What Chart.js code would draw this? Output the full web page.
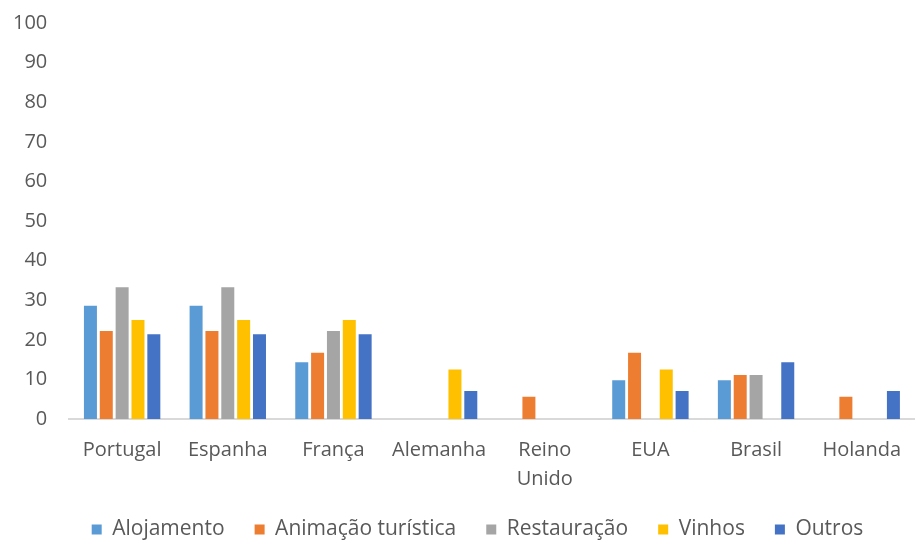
<!DOCTYPE html>
<html>
<head>
<meta charset="utf-8">
<script src="https://cdn.jsdelivr.net/npm/chart.js@4"></script>
<style>
  html, body { margin: 0; padding: 0; background: #fff; overflow: hidden; width: 918px; height: 543px; }
  #wrap { width: 918px; height: 556px; margin-top: -11px; }
</style>
</head>
<body>
<div id="wrap"><canvas id="chart"></canvas></div>
<script>
const categories = ['Portugal', 'Espanha', 'França', 'Alemanha', ['Reino', 'Unido'], 'EUA', 'Brasil', 'Holanda'];

const alojamento  = [28.6, 28.6, 14.3, null, null, 9.8, 9.8, null];
const animacao    = [22.2, 22.2, 16.7, null, 5.6, 16.7, 11.1, 5.6];
const restauracao = [33.3, 33.3, 22.2, null, null, null, 11.1, null];
const vinhos      = [25.0, 25.0, 25.0, 12.5, null, 12.5, null, null];
const outros      = [21.4, 21.4, 21.4, 7.1, null, 7.1, 14.3, 7.1];

const yTicks = [0, 10, 20, 30, 40, 50, 60, 70, 80, 90, 100];

const fontFamily = '"Open Sans", "Noto Sans", sans-serif';

// move the legend a bit right and up, like in the original
const shiftLegend = {
    id: 'shiftLegend',
    afterLayout(chart) {
        const lg = chart.legend;
        if (lg) {
            lg.left += 23;
            lg.right += 23;
            lg.top -= 22;
            lg.bottom -= 22;
        }
    }
};

function ds(label, data, color) {
    return {
        label: label,
        data: data,
        backgroundColor: color,
        borderWidth: 0,
        barPercentage: 0.82,
        categoryPercentage: 0.75
    };
}

const ctx = document.getElementById('chart').getContext('2d');
new Chart(ctx, {
    type: 'bar',
    data: {
        labels: categories,
        datasets: [
            ds('Alojamento', alojamento, '#5B9BD5'),
            ds('Animação turística', animacao, '#ED7D31'),
            ds('Restauração', restauracao, '#A5A5A5'),
            ds('Vinhos', vinhos, '#FFC000'),
            ds('Outros', outros, '#4472C4')
        ]
    },
    plugins: [shiftLegend],
    options: {
        responsive: true,
        maintainAspectRatio: false,
        animation: false,
        layout: { padding: { left: -9, right: 0, top: 0, bottom: -27 } },
        plugins: {
            legend: {
                position: 'bottom',
                labels: {
                    boxWidth: 10,
                    boxHeight: 10,
                    padding: 30,
                    color: '#595959',
                    font: { family: fontFamily, size: 21 }
                }
            },
            tooltip: { enabled: false }
        },
        scales: {
            x: {
                grid: { display: false, drawTicks: false },
                border: { display: true, color: '#d9d9d9', width: 2 },
                ticks: {
                    color: '#595959',
                    padding: 17,
                    maxRotation: 0,
                    autoSkip: false,
                    font: { family: fontFamily, size: 20, lineHeight: 1.45 }
                }
            },
            y: {
                min: 0,
                max: 100,
                afterBuildTicks: (axis) => {
                    axis.ticks = yTicks.map(v => ({ value: v }));
                },
                grid: { display: false, drawTicks: false },
                border: { display: false },
                ticks: {
                    color: '#595959',
                    padding: 22,
                    font: { family: fontFamily, size: 20 }
                }
            }
        }
    }
});
</script>
</body>
</html>
